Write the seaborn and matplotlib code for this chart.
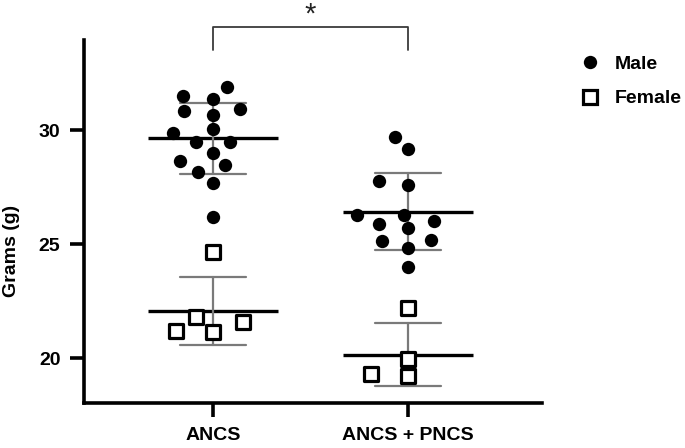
import numpy as np
import pandas as pd
import matplotlib
matplotlib.use("Agg")
import matplotlib.pyplot as plt
from matplotlib.lines import Line2D
import seaborn as sns

# ---------------- data ----------------
groups = ["ANCS", "ANCS + PNCS"]
sexes = ["Male", "Female"]
ancs_male = [31.87, 31.35, 31.49, 30.85, 30.93, 30.66, 30.04, 29.88,
             29.49, 29.49, 29.00, 28.65, 28.46, 28.17, 27.66, 26.17]
ancs_female = [24.66, 21.15, 21.78, 21.18, 21.57]
pncs_male = [29.68, 29.15, 27.59, 27.78, 26.27, 26.27, 26.01, 25.69,
             25.86, 25.19, 25.12, 24.81, 23.98]
pncs_female = [22.18, 19.94, 19.21, 19.28]
y_ticks = [20, 25, 30]
y_label = "Grams (g)"
sig_label = "*"

rows = []
for g, sex, vals in [(groups[0], sexes[0], ancs_male), (groups[0], sexes[1], ancs_female),
                     (groups[1], sexes[0], pncs_male), (groups[1], sexes[1], pncs_female)]:
    rows += [(g, sex, v) for v in vals]
df = pd.DataFrame(rows, columns=["group", "sex", "grams"])

# ---------------- style ----------------
sns.set_theme(style="ticks")
plt.rcParams["font.family"] = ["Liberation Sans", "DejaVu Sans"]
plt.rcParams["font.weight"] = "bold"
plt.rcParams["axes.labelweight"] = "bold"
plt.rcParams["text.color"] = "black"
plt.rcParams["axes.labelcolor"] = "black"
plt.rcParams["xtick.color"] = "black"
plt.rcParams["ytick.color"] = "black"

W, H = 685, 448
fig = plt.figure(figsize=(W / 100, H / 100), dpi=100)
ax = fig.add_axes([84 / W, 1 - 403 / H, 458 / W, 363 / H])

# ---------------- points (beeswarm layout) ----------------
sns.swarmplot(data=df[df.sex == "Male"], x="group", y="grams", order=groups,
              color="black", marker="o", size=9.6, linewidth=0, ax=ax, zorder=3)
sns.swarmplot(data=df[df.sex == "Female"], x="group", y="grams", order=groups,
              color="white", edgecolor="black", marker="s", size=9.4,
              linewidth=2.3, ax=ax, zorder=3)
swarms = list(ax.collections)

# ---------------- mean +/- SD ----------------
sns.pointplot(data=df, x="group", y="grams", hue="sex", hue_order=sexes,
              order=groups, errorbar="sd", capsize=0.34, markers="_",
              markersize=94, markeredgewidth=2.4, linestyle="none",
              palette=["black", "black"], dodge=False, legend=False,
              err_kws={"color": "#7a7a7a", "linewidth": 1.6}, ax=ax)

ax.set_xlim(-0.662, 1.687)
ax.set_ylim(18.03, 33.95)
ax.set_yticks(y_ticks)
ax.set_xlabel("")
ax.set_ylabel(y_label, fontsize=14, color="black")
ax.yaxis.set_label_coords(-0.139, 0.42)

for s in ["top", "right"]:
    ax.spines[s].set_visible(False)
for s in ["left", "bottom"]:
    ax.spines[s].set_linewidth(2.6)
    ax.spines[s].set_color("black")
ax.tick_params(axis="both", length=10, width=2.6, direction="out",
               labelsize=14, pad=7, colors="black")

# spread the swarm columns horizontally (Prism-like spacing)
fig.canvas.draw()
stretch = 2.2
for coll in swarms:
    off = coll.get_offsets().copy()
    if len(off) == 0:
        continue
    center = np.round(off[:, 0])
    off[:, 0] = center + (off[:, 0] - center) * stretch
    if "draw" in coll.__dict__:
        del coll.draw
    coll.set_offsets(off)

# ---------------- significance bracket ----------------
ax.plot([0, 0, 1, 1], [33.5, 34.53, 34.53, 33.5], color="#3a3a3a", lw=1.3,
        clip_on=False, zorder=5)
ax.text(0.5, 34.72, sig_label, ha="center", va="baseline", fontsize=21,
        fontweight="normal", color="#222222", clip_on=False)

# ---------------- legend ----------------
handles = [
    Line2D([], [], marker="o", ls="none", color="black", markersize=9.6,
           markeredgewidth=0),
    Line2D([], [], marker="s", ls="none", markerfacecolor="white",
           markeredgecolor="black", markersize=9.4, markeredgewidth=2.3),
]
fig.legend(handles, sexes, loc="upper left", bbox_to_anchor=(580 / W, 1 - 55 / H),
           frameon=False, fontsize=14, handlelength=1.0, handletextpad=0.8,
           labelspacing=0.88, borderpad=0, borderaxespad=0)

fig.savefig("out.png", dpi=100)
